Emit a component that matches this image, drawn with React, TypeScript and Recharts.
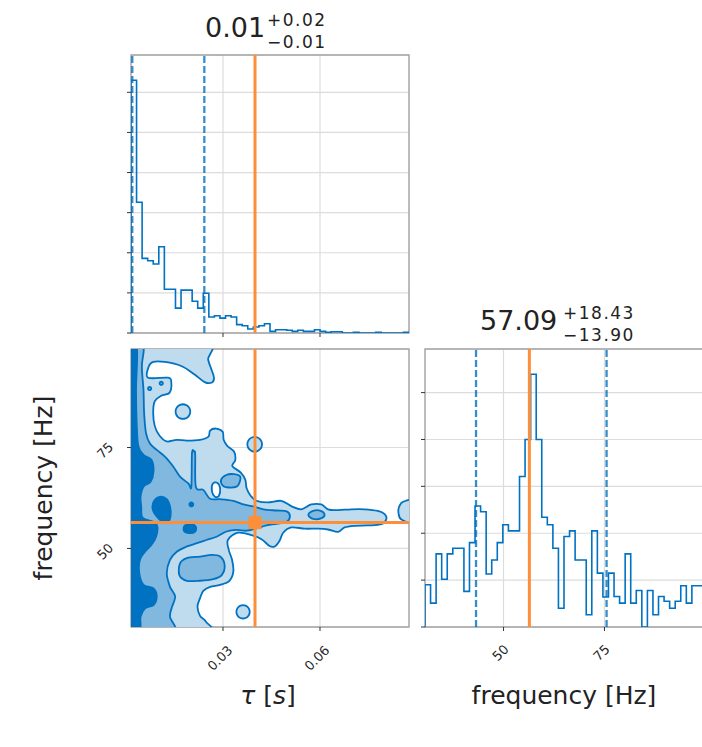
import React from "react";
import {
  ComposedChart,
  LineChart,
  Line,
  Scatter,
  XAxis,
  YAxis,
  CartesianGrid,
  ReferenceLine,
  ReferenceArea,
} from "recharts";

// axes
const TAU_RANGE = [0.00154, 0.08753];
const FREQ_RANGE = [30.55, 99.4];
const TAU_TICKS = [0.03, 0.06];
const TAU_TICK_LABELS = ["0.03", "0.06"];
const FREQ_TICKS = [50, 75];
const FREQ_TICK_LABELS = ["50", "75"];
const TAU_HIST_TICKS = [0, 1, 2, 3, 4, 5, 6];
const FREQ_HIST_TICKS = [0, 1, 2, 3, 4, 5];

// truths and quantiles
const TAU_TRUTH = 0.0399;
const FREQ_TRUTH = 56.4;
const TAU_QUANTILES = [0.00194, 0.02422];
const FREQ_QUANTILES = [43.19, 75.52];

// 1d marginals, 50 bins each
const TAU_HIST = [
  6.3, 3.26, 1.86, 1.8, 1.72, 2.15, 1.09, 1.09, 0.62, 1.07,
  1.07, 0.79, 0.62, 0.99, 0.4, 0.43, 0.37, 0.43, 0.4, 0.21,
  0.18, 0.1, 0.15, 0.18, 0.23, 0.04, 0.08, 0.08, 0.07, 0.04,
  0.07, 0.04, 0.04, 0.08, 0.04, 0.02, 0.03, 0.03, 0, 0,
  0.02, 0, 0, 0, 0.02, 0, 0, 0, 0, 0.02,
];
const FREQ_HIST = [
  0.9, 0.51, 1.56, 1.02, 1.56, 1.68, 1.68, 0.76, 1.8, 2.58,
  2.46, 1.13, 1.43, 1.8, 2.18, 2.05, 2.05, 3.21, 4.0, 5.39,
  4.0, 2.34, 2.18, 1.68, 0.4, 1.93, 2.05, 1.43, 1.43, 0.26,
  2.05, 1.15, 0.64, 1.15, 0.65, 0.51, 1.56, 0.51, 0.78, 0,
  0.78, 0.26, 0.65, 0.55, 0.4, 0.55, 0.88, 0.51, 0.88, 0.88,
];

// 2d contours: [tau (ms), frequency (Hz)]
type Pt = [number, number];
const LEVEL1_MAIN: Pt[] = [
  [-1, 101], [24.8, 101], [25.4, 96.8], [26.4, 94.4], [27.2, 92.3], [26.6, 91.1], [24.3, 91.2],
  [21.2, 93.1], [17.1, 95.2], [12.0, 96.2], [8.4, 96.2], [7.0, 95.0], [6.8, 92.3], [13.0, 92.3],
  [14.0, 91.1], [13.5, 88.6], [10.9, 87.8], [8.9, 86.5], [8.4, 83.6], [8.9, 80.3], [10.4, 77.9],
  [12.6, 76.5], [15.7, 76.9], [18.8, 76.7], [22.9, 76.9], [25.5, 77.7], [26.0, 79.2], [27.9, 79.7],
  [29.9, 78.9], [30.2, 76.9], [31.3, 75.4], [33.4, 74.0], [33.8, 71.9], [32.9, 70.4], [35.5, 68.8],
  [36.9, 67.0], [37.3, 64.9], [38.6, 63.0], [40.4, 61.8], [43.9, 61.4], [48.0, 61.8], [51.1, 60.5],
  [54.2, 59.7], [57.3, 60.9], [60.4, 60.9], [62.5, 59.7], [65.6, 59.5], [69.7, 59.7], [73.8, 59.7],
  [77.9, 59.3], [80.0, 58.5], [80.5, 57.2], [79.0, 56.0], [74.8, 55.7], [70.7, 55.6], [67.6, 55.2],
  [65.6, 54.1], [62.5, 54.7], [59.4, 54.9], [55.3, 54.9], [51.1, 55.2], [48.6, 53.9], [47.5, 51.9],
  [46.0, 50.5], [44.4, 50.6], [41.9, 52.3], [38.8, 53.3], [34.6, 53.9], [31.5, 52.1], [31.8, 49.6],
  [32.8, 47.2], [33.2, 44.3], [32.0, 42.0], [29.1, 41.0], [26.0, 40.5], [23.9, 39.5], [22.9, 37.7],
  [22.1, 35.6], [22.9, 33.3], [24.7, 31.9], [25.2, 29], [-1, 29],
];
const LEVEL1_EDGE: Pt[] = [[90, 61.8], [85.8, 61.6], [84.5, 60.4], [84.3, 58.7], [85.3, 57.1], [90, 56.4]];
// [tau, freq, tau radius, freq radius]
const LEVEL1_SPOTS = [
  [17.6, 83.9, 2.27, 1.82],
  [39.8, 75.8, 2.27, 1.82],
  [36.2, 34.3, 2.06, 1.65],
];
const HOLES: Pt[][] = [
  [[26.8, 66.0], [28.2, 66.3], [29.1, 64.9], [28.7, 63.0], [27.5, 62.8], [26.6, 64.1]],
];
const LEVEL2_MAIN: Pt[] = [
  [-1, 101], [5.2, 101], [4.9, 95.0], [5.4, 89.3], [5.6, 83.5], [6.2, 78.5], [7.4, 76.0],
  [9.5, 74.4], [12.1, 72.7], [14.6, 70.3], [16.7, 67.8], [19.3, 66.1], [20.2, 65.3], [20.4, 73.6],
  [21.0, 74.0], [21.4, 73.2], [21.6, 65.3], [23.9, 64.5], [26.0, 62.3], [29.1, 62.2], [33.2, 61.8],
  [36.3, 60.9], [39.4, 60.4], [42.5, 59.7], [46.6, 59.4], [49.7, 59.2], [50.7, 58.0], [49.7, 56.6],
  [46.6, 56.1], [43.5, 55.7], [40.4, 55.0], [37.3, 54.4], [34.2, 54.6], [31.1, 54.2], [28.0, 52.9],
  [24.9, 52.1], [21.9, 51.3], [18.8, 50.5], [15.7, 49.2], [13.6, 47.2], [12.6, 43.9], [13.6, 40.5],
  [15.2, 38.1], [14.1, 35.2], [13.6, 33.1], [14.6, 29], [-1, 29],
];
const LEVEL2_ISLANDS: Pt[][] = [
  [[29.4, 67.0], [31.0, 68.2], [33.4, 68.4], [35.3, 67.8], [35.1, 66.3], [34.2, 65.3], [31.8, 65.1], [30.0, 65.5]],
  [[16.7, 46.3], [18.8, 47.6], [22.9, 48.0], [26.5, 48.4], [29.1, 48.0], [30.5, 45.9], [29.6, 43.4],
    [27.0, 42.4], [22.9, 42.0], [18.8, 42.0], [16.5, 43.4]],
  [[56.4, 58.3], [57.9, 59.3], [60.0, 59.4], [61.4, 58.5], [60.5, 57.5], [57.9, 57.3]],
];
const LEVEL2_SPOTS = [
  [7.3, 89.6, 0.5, 0.4],
  [10.9, 90.9, 0.5, 0.4],
];
const LEVEL3_SHAPES: Pt[][] = [
  [[-1, 101], [3.2, 101], [3.1, 89.3], [3.3, 81.0], [3.8, 75.4], [5.4, 73.2], [7.9, 71.9], [8.5, 69.0],
    [7.6, 66.5], [5.4, 65.3], [4.5, 62.8], [4.7, 60.4], [4.9, 57.9], [6.4, 57.1], [8.5, 56.6], [9.7, 55.4],
    [9.3, 52.9], [7.9, 50.9], [5.9, 49.2], [4.3, 47.2], [4.1, 43.9], [5.4, 41.0], [8.5, 40.1], [9.5, 38.1],
    [8.5, 36.0], [5.9, 35.2], [4.5, 33.1], [4.1, 29], [-1, 29]],
  [[10.5, 62.8], [12.6, 62.2], [13.6, 60.4], [13.8, 58.3], [13.1, 56.6], [11.3, 56.6], [9.5, 57.9], [8.2, 59.9], [8.7, 61.8]],
  [[18.2, 55.7], [20.3, 56.0], [21.6, 55.4], [21.4, 54.2], [19.6, 53.8], [17.9, 54.4]],
];
const LEVEL3_SPOTS = [[20.2, 60.9, 0.6, 0.5]];

const BLUE = "#0072C1";
const LIGHT = "#bfdcef";
const MID = "#80b8e0";
const ORANGE = "#fd8f3a";
const GRID = "#dcdcdc";
const FRAME = "#a3a3a3";
const FONT = "DejaVu Sans, sans-serif";

const polyData = (pts: Pt[]) => pts.map(([t, f]) => ({ x: t / 1000, y: f }));
const spotData = ([t, f, rt, rf]: number[]) =>
  Array.from({ length: 16 }, (_, k) => {
    const a = (k / 16) * 2 * Math.PI;
    return { x: (t + rt * Math.cos(a)) / 1000, y: f + rf * Math.sin(a) };
  });

function histSteps(counts: number[], lo: number, hi: number) {
  const w = (hi - lo) / counts.length;
  const pts = [{ x: lo, y: 0 }];
  counts.forEach((c, i) => pts.push({ x: lo + i * w, y: c }));
  pts.push({ x: hi, y: counts[counts.length - 1] });
  pts.push({ x: hi, y: 0 });
  return pts;
}

function smoothClosed(pts: { x: number; y: number }[]) {
  const n = pts.length;
  let d = `M${pts[0].x},${pts[0].y}`;
  for (let i = 0; i < n; i++) {
    const p0 = pts[(i - 1 + n) % n], p1 = pts[i], p2 = pts[(i + 1) % n], p3 = pts[(i + 2) % n];
    const c1x = p1.x + (p2.x - p0.x) / 6, c1y = p1.y + (p2.y - p0.y) / 6;
    const c2x = p2.x - (p3.x - p1.x) / 6, c2y = p2.y - (p3.y - p1.y) / 6;
    d += `C${c1x},${c1y} ${c2x},${c2y} ${p2.x},${p2.y}`;
  }
  return d + "Z";
}

const fillLine = (fill: string) => (p: any) => (
  <path d={smoothClosed(p.points)} fill={fill} stroke={BLUE} strokeWidth={1.8} strokeLinejoin="round" />
);
const straightLine = (p: any) => (
  <path d={`M${p.points[0].x},${p.points[0].y}L${p.points[1].x},${p.points[1].y}`}
    stroke={ORANGE} strokeWidth={3} fill="none" />
);
const noShape = () => <g />;

const labelHalf = (s: string) => (s.length * 7.4 + 13) * 0.354;
function rotated(text: string, cx: number, cy: number) {
  return (
    <text x={cx} y={cy} textAnchor="middle" dominantBaseline="central" fontSize={13}
      fontFamily={FONT} fill="#262626" transform={`rotate(-45 ${cx} ${cy})`}>
      {text}
    </text>
  );
}
const bottomTick = (ticks: number[], labels: string[]) => (props: any) => {
  const { x, y, payload } = props;
  const i = ticks.indexOf(payload.value);
  const text = i >= 0 ? labels[i] : String(payload.value);
  return rotated(text, x - 3, y + 10 + labelHalf(text));
};
const leftTick = (ticks: number[], labels: string[]) => (props: any) => {
  const { x, y, payload } = props;
  const i = ticks.indexOf(payload.value);
  const text = i >= 0 ? labels[i] : String(payload.value);
  return rotated(text, x - 10 - labelHalf(text), y + 3);
};

const tickLine = { stroke: "#333", strokeWidth: 1 };

function Frame({ xr, yr }: { xr: number[]; yr: number[] }) {
  return (
    <ReferenceArea x1={xr[0]} x2={xr[1]} y1={yr[0]} y2={yr[1]} fill="none"
      stroke={FRAME} strokeWidth={1.3} ifOverflow="visible" />
  );
}

function TauHist() {
  const yr = [0, 6.93];
  return (
    <div style={{ position: "absolute", left: 121, top: 50 }}>
      <LineChart width={293} height={293} data={histSteps(TAU_HIST, TAU_RANGE[0], TAU_RANGE[1])}
        margin={{ top: 5, right: 5, left: 0, bottom: 0 }}>
        <CartesianGrid stroke={GRID} strokeWidth={1.2} />
        <XAxis type="number" dataKey="x" domain={TAU_RANGE} ticks={TAU_TICKS} allowDataOverflow
          height={10} tickSize={4} tickLine={tickLine} axisLine={false} tick={noShape} interval={0} />
        <YAxis type="number" domain={yr} ticks={TAU_HIST_TICKS} allowDataOverflow width={10}
          tickSize={4} tickLine={tickLine} axisLine={false} tick={noShape} interval={0} />
        <Frame xr={TAU_RANGE} yr={yr} />
        <Line type="stepAfter" dataKey="y" stroke={BLUE} strokeWidth={1.6} dot={false}
          activeDot={false} isAnimationActive={false} />
        {TAU_QUANTILES.map((q) => (
          <ReferenceLine key={q} x={q} stroke={BLUE} strokeWidth={2.3} strokeDasharray="7 3" strokeOpacity={0.8} />
        ))}
        <ReferenceLine x={TAU_TRUTH} stroke={ORANGE} strokeWidth={3} />
      </LineChart>
    </div>
  );
}

function FreqHist() {
  const yr = [0, 5.93];
  return (
    <div style={{ position: "absolute", left: 415, top: 344 }}>
      <LineChart width={293} height={333} data={histSteps(FREQ_HIST, FREQ_RANGE[0], FREQ_RANGE[1])}
        margin={{ top: 5, right: 5, left: 0, bottom: 0 }}>
        <CartesianGrid stroke={GRID} strokeWidth={1.2} />
        <XAxis type="number" dataKey="x" domain={FREQ_RANGE} ticks={FREQ_TICKS} allowDataOverflow
          height={50} tickSize={4} tickLine={tickLine} axisLine={false}
          tick={bottomTick(FREQ_TICKS, FREQ_TICK_LABELS)} interval={0} />
        <YAxis type="number" domain={yr} ticks={FREQ_HIST_TICKS} allowDataOverflow width={10}
          tickSize={4} tickLine={tickLine} axisLine={false} tick={noShape} interval={0} />
        <Frame xr={FREQ_RANGE} yr={yr} />
        <Line type="stepAfter" dataKey="y" stroke={BLUE} strokeWidth={1.6} dot={false}
          activeDot={false} isAnimationActive={false} />
        {FREQ_QUANTILES.map((q) => (
          <ReferenceLine key={q} x={q} stroke={BLUE} strokeWidth={2.3} strokeDasharray="7 3" strokeOpacity={0.8} />
        ))}
        <ReferenceLine x={FREQ_TRUTH} stroke={ORANGE} strokeWidth={3} />
      </LineChart>
    </div>
  );
}

function Contour() {
  const layer = (key: string, data: any[], fill: string) => (
    <Scatter key={key} data={data} line={fillLine(fill)} shape={noShape} isAnimationActive={false} />
  );
  const vTruth = [{ x: TAU_TRUTH, y: FREQ_RANGE[0] - 2 }, { x: TAU_TRUTH, y: FREQ_RANGE[1] + 2 }];
  const hTruth = [{ x: TAU_RANGE[0] - 0.002, y: FREQ_TRUTH }, { x: TAU_RANGE[1] + 0.002, y: FREQ_TRUTH }];
  return (
    <div style={{ position: "absolute", left: 91, top: 344 }}>
      <ComposedChart width={323} height={333} margin={{ top: 5, right: 5, left: 0, bottom: 0 }}>
        <CartesianGrid stroke={GRID} strokeWidth={1.2} />
        <XAxis type="number" dataKey="x" domain={TAU_RANGE} ticks={TAU_TICKS} allowDataOverflow
          height={50} tickSize={4} tickLine={tickLine} axisLine={false}
          tick={bottomTick(TAU_TICKS, TAU_TICK_LABELS)} interval={0} />
        <YAxis type="number" dataKey="y" domain={FREQ_RANGE} ticks={FREQ_TICKS} allowDataOverflow
          width={40} tickSize={4} tickLine={tickLine} axisLine={false}
          tick={leftTick(FREQ_TICKS, FREQ_TICK_LABELS)} interval={0} />
        {layer("l1", polyData(LEVEL1_MAIN), LIGHT)}
        {layer("l1e", polyData(LEVEL1_EDGE), LIGHT)}
        {LEVEL1_SPOTS.map((s, i) => layer("l1s" + i, spotData(s), LIGHT))}
        {HOLES.map((h, i) => layer("h" + i, polyData(h), "#ffffff"))}
        {layer("l2", polyData(LEVEL2_MAIN), MID)}
        {LEVEL2_ISLANDS.map((p, i) => layer("l2i" + i, polyData(p), MID))}
        {LEVEL2_SPOTS.map((s, i) => layer("l2s" + i, spotData(s), MID))}
        {LEVEL3_SHAPES.map((p, i) => layer("l3" + i, polyData(p), BLUE))}
        {LEVEL3_SPOTS.map((s, i) => layer("l3s" + i, spotData(s), BLUE))}
        <Scatter data={vTruth} line={straightLine} shape={noShape} isAnimationActive={false} />
        <Scatter data={hTruth} line={straightLine} shape={noShape} isAnimationActive={false} />
        <Scatter data={[{ x: TAU_TRUTH, y: FREQ_TRUTH }]} isAnimationActive={false}
          shape={(p: any) => <rect x={p.cx - 6.5} y={p.cy - 6.5} width={13} height={13} fill={ORANGE} />} />
        <Frame xr={TAU_RANGE} yr={FREQ_RANGE} />
      </ComposedChart>
    </div>
  );
}

function Titles() {
  const txt = { fontFamily: FONT, fill: "#222" };
  const small = { ...txt, fontSize: 17, letterSpacing: 1.5 };
  return (
    <svg width={702} height={747} style={{ position: "absolute", left: 0, top: 0, pointerEvents: "none" }}>
      <text x={205} y={37} fontSize={27} {...txt}>0.01</text>
      <text x={267} y={26} {...small}>+0.02</text>
      <text x={267} y={48} {...small}>−0.01</text>
      <text x={480} y={330} fontSize={27} {...txt}>57.09</text>
      <text x={563} y={319} {...small}>+18.43</text>
      <text x={563} y={341} {...small}>−13.90</text>
      <text x={52} y={488} fontSize={25} textAnchor="middle" transform="rotate(-90 52 488)" {...txt}>
        frequency [Hz]
      </text>
      <text x={268} y={704} fontSize={25} textAnchor="middle" {...txt}>
        <tspan fontStyle="italic">τ</tspan> [<tspan fontStyle="italic">s</tspan>]
      </text>
      <text x={564} y={704} fontSize={25} textAnchor="middle" {...txt}>frequency [Hz]</text>
    </svg>
  );
}

export default function App() {
  return (
    <div style={{ position: "absolute", left: 0, top: 0, width: 702, height: 747, overflow: "hidden", background: "#fff" }}>
      <TauHist />
      <Contour />
      <FreqHist />
      <Titles />
    </div>
  );
}
